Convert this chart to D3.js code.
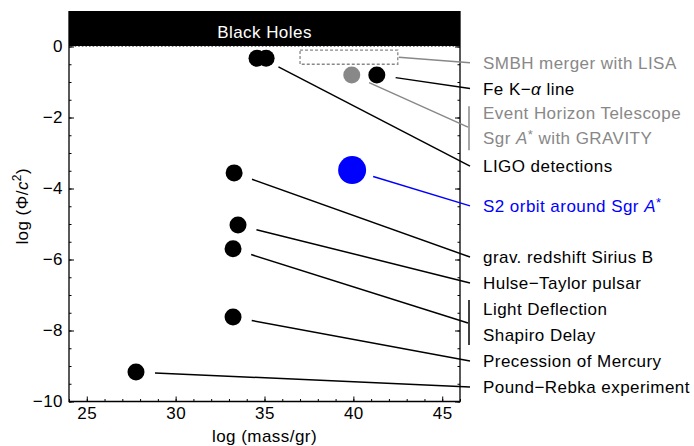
<!DOCTYPE html>
<html><head><meta charset="utf-8">
<script src="https://cdn.jsdelivr.net/npm/d3@7"></script>
<style>
body{margin:0;background:#fff}
text{font-family:"Liberation Sans",Arial,Helvetica,sans-serif;font-size:17px;letter-spacing:0.45px}
</style>
</head><body>
<svg id="c" width="694" height="446"></svg>
<script>
// ---- data ----
const xTicks = [25, 30, 35, 40, 45];
const yTicks = [0, -2, -4, -6, -8, -10];
const xDomain = [24, 46];
const yDomain = [-10, 1];

// measured points (log mass, log Phi/c^2)
const pointX = [34.58, 35.09, 39.91, 41.32, 39.93, 33.29, 33.51, 33.23, 33.23, 27.77];
const pointY = [-0.33, -0.33, -0.80, -0.80, -3.48, -3.56, -5.03, -5.70, -7.62, -9.17];
const pointR = [8.5, 8.5, 8.5, 8.5, 14, 8.5, 8.5, 8.5, 8.5, 8.5];
const pointColor = ["#000", "#000", "#888", "#000", "#0000ff", "#000", "#000", "#000", "#000", "#000"];

// LISA band (dashed box)
const lisaX = [37.0, 42.5];
const lisaY = [-0.1, -0.5];

// labels (right side)
const labelParts = [
  [["SMBH merger with LISA"]],
  [["Fe K\u2212"], ["\u03b1", "i"], [" line"]],
  [["Event Horizon Telescope"]],
  [["Sgr "], ["A", "i"], ["*", "sup"], [" with GRAVITY"]],
  [["LIGO detections"]],
  [["S2 orbit around Sgr "], ["A", "i"], ["*", "sup"]],
  [["grav. redshift Sirius B"]],
  [["Hulse\u2212Taylor pulsar"]],
  [["Light Deflection"]],
  [["Shapiro Delay"]],
  [["Precession of Mercury"]],
  [["Pound\u2212Rebka experiment"]]
];
const labelY = [-0.46, -1.18, -1.87, -2.58, -3.37, -4.49, -5.93, -6.66, -7.39, -8.13, -8.86, -9.59];
const labelColor = ["#888", "#000", "#888", "#888", "#000", "#0000ff", "#000", "#000", "#000", "#000", "#000", "#000"];

// leaders: source points (indices, or "lisa"), target y, bracket flag, colour
const leaderFrom = ["lisa", [3], [2], [0, 1], [4], [5], [6], [7], [8], [9]];
const leaderToY = [-0.46, -1.18, -2.27, -3.37, -4.49, -5.93, -6.66, -7.79, -8.86, -9.59];
const leaderBracket = [false, false, true, false, false, false, false, true, false, false];
const leaderColor = ["#888", "#000", "#888", "#000", "#0000ff", "#000", "#000", "#000", "#000", "#000"];
const bracketY = [[-1.68, -2.92], [-7.14, -8.41]];
const bracketColor = ["#888", "#000"];

// ---- drawing ----
const L = 69, R = 460, T = 11, B = 401.5;
const svg = d3.select("#c");
const x = d3.scaleLinear().domain(xDomain).range([L, R]);
const y = d3.scaleLinear().domain(yDomain).range([B, T]);

// black-hole band
svg.append("rect").attr("x", L).attr("y", y(1)).attr("width", R - L).attr("height", y(0) - y(1)).attr("fill", "#000");
svg.append("text").attr("x", (L + R) / 2).attr("y", (y(1) + y(0)) / 2 + 3).attr("dy", "0.36em")
  .attr("text-anchor", "middle").attr("fill", "#fff").text("Black Holes");
svg.append("line").attr("x1", L).attr("x2", R).attr("y1", y(0)).attr("y2", y(0))
  .attr("stroke", "#fff").attr("stroke-width", 1.2).attr("stroke-dasharray", "2,1.6");

// axes
function styleAxis(g) {
  g.select(".domain").remove();
  g.selectAll(".tick line").attr("stroke", "#000").attr("stroke-width", 1);
  g.selectAll("text").attr("fill", "#000").style("font-size", "17px")
    .style("font-family", '"Liberation Sans",Arial,sans-serif');
}
const fmt = d => d < 0 ? "\u2212" + Math.abs(d) : "" + d;
const yMinor = d3.range(-10, 0.01, 0.5);
const xMinor = d3.range(24, 46.01, 1);

svg.append("g").attr("transform", `translate(${L},0)`)
  .call(d3.axisLeft(y).tickValues(yMinor).tickSize(-2.5).tickFormat("")).call(styleAxis);
svg.append("g").attr("transform", `translate(${L},0)`)
  .call(d3.axisLeft(y).tickValues(yTicks).tickSize(-5).tickPadding(6).tickFormat(fmt)).call(styleAxis);
svg.append("g").attr("transform", `translate(${R},0)`)
  .call(d3.axisRight(y).tickValues(yMinor).tickSize(-2.5).tickFormat("")).call(styleAxis);
svg.append("g").attr("transform", `translate(${R},0)`)
  .call(d3.axisRight(y).tickValues(yTicks).tickSize(-5).tickFormat("")).call(styleAxis);
svg.append("g").attr("transform", `translate(0,${B})`)
  .call(d3.axisBottom(x).tickValues(xMinor).tickSize(-2.5).tickFormat("")).call(styleAxis);
svg.append("g").attr("transform", `translate(0,${B})`)
  .call(d3.axisBottom(x).tickValues(xTicks).tickSize(-5).tickPadding(5).tickFormat(fmt)).call(styleAxis);

// frame
svg.append("path").attr("d", `M${L},${T}V${B}H${R}V${T}`).attr("fill", "none").attr("stroke", "#000").attr("stroke-width", 1.3);

// axis titles
svg.append("text").attr("x", (L + R) / 2).attr("y", 442).attr("text-anchor", "middle").text("log (mass/gr)");
const yt = svg.append("text").attr("transform", `translate(28,${(T + B) / 2}) rotate(-90)`).attr("text-anchor", "middle");
yt.append("tspan").text("log (\u03a6/");
yt.append("tspan").style("font-style", "italic").text("c");
yt.append("tspan").attr("dy", -7).style("font-size", "12px").text("2");
yt.append("tspan").attr("dy", 7).text(")");

// LISA box
svg.append("rect").attr("x", x(lisaX[0])).attr("y", y(lisaY[0]))
  .attr("width", x(lisaX[1]) - x(lisaX[0])).attr("height", y(lisaY[1]) - y(lisaY[0]))
  .attr("fill", "none").attr("stroke", "#888").attr("stroke-width", 1.3).attr("stroke-dasharray", "3,2");

// points
svg.append("g").selectAll("circle").data(pointX).join("circle")
  .attr("cx", d => x(d)).attr("cy", (d, i) => y(pointY[i]))
  .attr("r", (d, i) => pointR[i]).attr("fill", (d, i) => pointColor[i]);

// leaders
leaderFrom.forEach((src, k) => {
  const ex = R + (leaderBracket[k] ? 8 : 10);
  const ey = y(leaderToY[k]);
  let sx, sy;
  if (src === "lisa") {
    sx = x(lisaX[1]) + 1; sy = y((lisaY[0] + lisaY[1]) / 2);
  } else {
    const cx = d3.mean(src, i => x(pointX[i]));
    const cy = d3.mean(src, i => y(pointY[i]));
    const r = d3.max(src, i => pointR[i]);
    const gap = r > 10 ? 22 : 19;
    const dx = ex - cx, dy = ey - cy, len = Math.hypot(dx, dy);
    sx = cx + dx / len * gap; sy = cy + dy / len * gap;
  }
  svg.append("line").attr("x1", sx).attr("y1", sy).attr("x2", ex).attr("y2", ey)
    .attr("stroke", leaderColor[k]).attr("stroke-width", 1.5);
});
bracketY.forEach((b, k) => {
  svg.append("line").attr("x1", R + 9).attr("x2", R + 9).attr("y1", y(b[0])).attr("y2", y(b[1]))
    .attr("stroke", bracketColor[k]).attr("stroke-width", 1.5);
});

// labels
labelParts.forEach((parts, k) => {
  const t = svg.append("text").attr("x", 483).attr("y", y(labelY[k])).attr("dy", "0.36em").attr("fill", labelColor[k]);
  let shifted = false;
  parts.forEach(p => {
    const ts = t.append("tspan").text(p[0]);
    if (p[1] === "i") ts.style("font-style", "italic");
    if (p[1] === "sup") { ts.attr("dy", -5).style("font-size", "13px"); shifted = true; }
    else if (shifted) { ts.attr("dy", 5); shifted = false; }
  });
});
</script>
</body></html>
